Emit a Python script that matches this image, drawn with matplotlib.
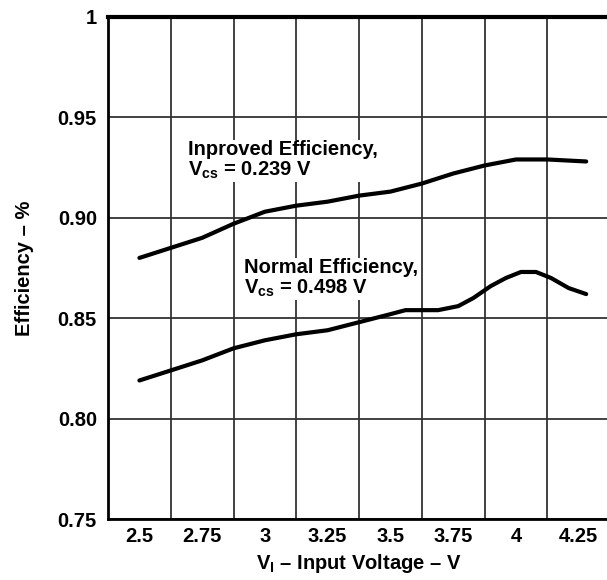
import matplotlib
matplotlib.use("Agg")
import matplotlib.pyplot as plt

# x tick labels sit in the middle of each grid cell
x_labels = ["2.5", "2.75", "3", "3.25", "3.5", "3.75", "4", "4.25"]
x_centers = [2.5, 2.75, 3.0, 3.25, 3.5, 3.75, 4.0, 4.25]
y_ticks = [0.75, 0.80, 0.85, 0.90, 0.95, 1.0]
y_labels = ["0.75", "0.80", "0.85", "0.90", "0.95", "1"]

# Improved efficiency, Vcs = 0.239 V
v_improved = [2.5, 2.625, 2.75, 2.875, 3.0, 3.125, 3.25, 3.375, 3.5,
              3.625, 3.75, 3.875, 4.0, 4.125, 4.28]
eff_improved = [0.880, 0.885, 0.890, 0.897, 0.903, 0.906, 0.908, 0.911,
                0.913, 0.917, 0.922, 0.926, 0.929, 0.929, 0.928]

# Normal efficiency, Vcs = 0.498 V
v_normal = [2.5, 2.625, 2.75, 2.875, 3.0, 3.125, 3.25, 3.375, 3.5, 3.56,
            3.69, 3.77, 3.83, 3.9, 3.96, 4.02, 4.08, 4.14, 4.21, 4.28]
eff_normal = [0.819, 0.824, 0.829, 0.835, 0.839, 0.842, 0.844, 0.848, 0.852,
              0.854, 0.854, 0.856, 0.860, 0.866, 0.870, 0.873, 0.873, 0.870,
              0.865, 0.862]

plt.rcParams["font.family"] = ["Liberation Sans", "DejaVu Sans"]
plt.rcParams["font.weight"] = "bold"
plt.rcParams["mathtext.fontset"] = "custom"
plt.rcParams["mathtext.rm"] = "Liberation Sans:bold"
plt.rcParams["mathtext.bf"] = "Liberation Sans:bold"
plt.rcParams["mathtext.it"] = "Liberation Sans:bold"
plt.rcParams["mathtext.default"] = "bf"

FS = 14.5

fig = plt.figure(figsize=(6.07, 5.80), dpi=100)
ax = fig.add_axes([0.178, 0.105, 0.827, 0.866])

ax.plot(v_improved, eff_improved, color="black", lw=3.0, solid_capstyle="round", zorder=3)
ax.plot(v_normal, eff_normal, color="black", lw=3.0, solid_capstyle="round", zorder=3)

ax.set_xlim(2.375, 4.375)
ax.set_ylim(0.75, 1.0)

ax.set_xticks(x_centers)
ax.set_xticklabels(x_labels, fontsize=FS, fontweight="bold")
ax.set_xticks([c + 0.125 for c in x_centers[:-1]], minor=True)
ax.set_yticks(y_ticks)
ax.set_yticklabels(y_labels, fontsize=FS, fontweight="bold")
ax.tick_params(axis="both", which="both", length=0)
ax.tick_params(axis="x", pad=6)
ax.tick_params(axis="y", pad=8)

ax.grid(True, which="minor", axis="x", color="#333333", lw=1.3)
ax.grid(True, which="major", axis="y", color="#333333", lw=1.3)
ax.set_axisbelow(True)

for side in ["left", "bottom"]:
    ax.spines[side].set_linewidth(2.0)
ax.spines["top"].set_linewidth(3.0)
ax.spines["right"].set_visible(False)

ax.text(2.694, 0.9387, "Inproved Efficiency,\nV$_{cs}$ = 0.239 V",
        fontsize=FS, fontweight="bold", ha="left", va="top", linespacing=1.05,
        bbox=dict(facecolor="white", edgecolor="none", pad=1), zorder=2)
ax.text(2.915, 0.880, "Normal Efficiency,\nV$_{cs}$ = 0.498 V",
        fontsize=FS, fontweight="bold", ha="left", va="top", linespacing=1.05,
        bbox=dict(facecolor="white", edgecolor="none", pad=1), zorder=2)

ax.set_xlabel("V$_{I}$ – Input Voltage – V", fontsize=FS, fontweight="bold", labelpad=4)
ax.set_ylabel("Efficiency – %", fontsize=FS, fontweight="bold", labelpad=17)

fig.savefig("out.png", dpi=100)
